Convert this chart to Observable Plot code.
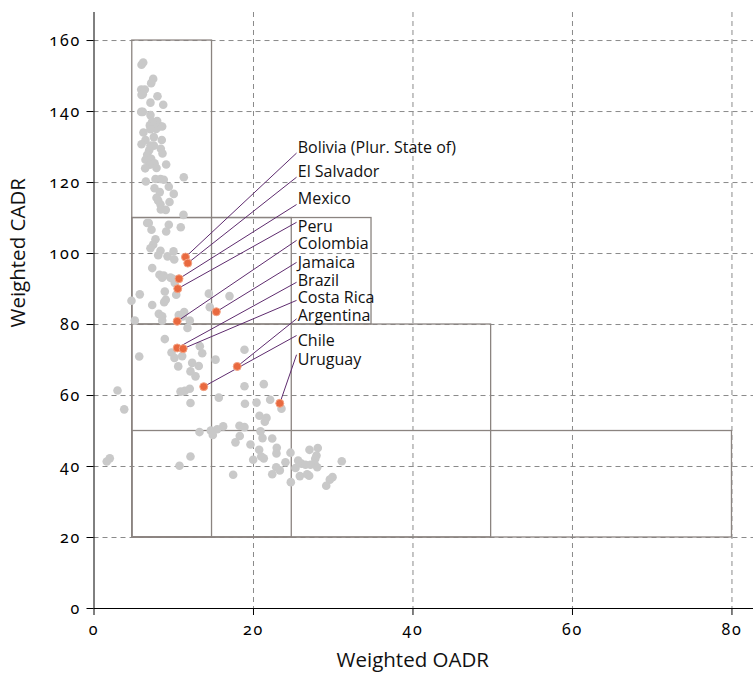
<!DOCTYPE html>
<html>
<head>
<meta charset="utf-8">
<script src="https://cdn.jsdelivr.net/npm/d3@7"></script>
<script src="https://cdn.jsdelivr.net/npm/@observablehq/plot@0.6"></script>
<style>
  html, body { margin: 0; padding: 0; background: #fff; }
  #chart { width: 753px; height: 679px; }
  #chart g[aria-label="x-axis tick label"],
  #chart g[aria-label="y-axis tick label"] {
    font-family: 'Noto Sans', 'Open Sans', sans-serif;
    font-feature-settings: "onum" 1;
    font-variant-numeric: oldstyle-nums;
    letter-spacing: 1.8px;
    font-size: 16px;
  }
</style>
</head>
<body>
<div id="chart"></div>
<script>
// Other countries (grey)
const grayOADR = [5.96,6.17,7.42,7.17,5.92,6.37,5.96,6.12,7.96,7.08,8.68,5.92,6.12,7.08,7.3,7.92,7.0,7.5,8.25,7.8,7.08,8.55,6.2,7.5,8.5,6.46,5.96,7.08,7.5,8.38,6.92,6.67,8.59,6.46,7.17,7.59,7.0,9.05,6.42,7.84,6.5,7.71,8.34,8.75,11.26,7.59,9.38,8.25,10.0,7.84,8.05,9.47,8.34,8.38,9.0,11.22,6.67,6.87,9.38,7.21,9.05,10.88,7.71,7.42,7.08,8.34,8.05,9.22,9.97,10.06,7.3,8.21,8.75,8.55,9.88,10.13,9.59,5.74,4.7,7.3,8.8,9.0,8.88,10.31,14.4,8.13,8.55,8.55,10.63,11.31,11.13,12.01,5.12,11.72,16.99,14.52,8.88,5.67,9.72,10.09,11.06,13.27,13.57,10.56,12.31,13.14,15.24,12.1,12.73,10.85,11.39,12.01,2.95,12.1,15.65,3.79,18.87,18.87,18.93,13.23,14.65,14.9,15.45,16.2,18.24,18.87,18.28,17.74,12.1,10.72,1.98,1.6,21.29,20.38,22.09,23.51,20.75,21.63,21.42,20.88,19.62,21.13,22.35,22.92,22.88,20.71,20.97,21.29,19.96,24.64,27.02,28.06,27.9,27.74,24.01,25.6,26.02,25.27,26.52,27.15,27.65,27.99,31.07,22.85,23.3,22.35,25.81,26.73,26.98,29.91,29.57,29.12,24.68,17.45];
const grayCADR = [153.2,153.8,149.2,148.0,146.2,146.2,144.7,144.9,144.3,142.5,141.9,139.9,139.9,139.0,137.2,137.3,136.1,136.3,135.9,135.1,135.0,135.8,134.1,132.8,132.0,132.0,130.8,130.4,130.4,129.5,129.1,127.8,128.2,126.4,126.7,125.4,125.0,125.1,124.0,124.1,120.3,121.0,121.0,120.8,121.5,118.4,118.8,117.3,116.8,115.7,114.9,114.5,113.8,112.4,112.3,110.9,108.6,108.6,108.1,106.7,106.2,107.4,104.0,102.5,101.5,100.8,99.5,99.2,100.6,98.3,95.9,94.0,93.8,93.2,92.9,91.7,93.2,88.5,86.7,85.5,86.3,87.0,89.3,88.4,88.7,83.0,82.3,81.1,82.7,83.5,82.3,81.1,81.1,79.0,88.0,84.9,75.9,71.0,72.1,70.6,71.1,73.9,71.9,68.2,69.2,68.3,70.1,66.8,65.4,61.1,61.3,61.9,61.4,57.9,59.4,56.1,72.9,62.6,57.7,49.7,50.1,48.9,50.5,51.3,51.5,51.1,48.6,46.8,42.8,40.2,42.3,41.4,63.2,58.0,58.8,56.3,54.3,53.7,52.6,49.9,46.2,48.0,47.9,45.3,43.7,44.7,42.8,42.3,41.9,43.9,44.7,45.2,43.1,42.2,41.2,41.7,40.8,39.6,40.5,40.5,40.8,39.8,41.5,39.8,38.9,37.8,37.3,37.8,37.4,37.0,36.3,34.6,35.6,37.7];

// Highlighted Latin American countries
const countries = ["Bolivia (Plur. State of)","El Salvador","Mexico","Peru","Colombia","Jamaica","Brazil","Costa Rica","Argentina","Chile","Uruguay"];
const countryOADR = [11.47,11.76,10.66,10.5,10.43,15.34,10.43,11.18,17.96,13.76,23.3];
const countryCADR = [99.0,97.3,92.9,90.1,80.9,83.6,73.4,73.2,68.2,62.5,57.8];
// label anchor values (in data units)
const labelCADR = [129.9,122.9,115.4,107.4,102.7,97.5,92.4,87.5,82.5,75.5,70.1];
const leaderCADR = [128.3,121.5,113.8,108.8,103.7,97.5,91.9,86.8,81.6,76.9,71.5];
const labelOADR = 25.55;
const leaderOADR = 25.4;

// Threshold boxes
const boxX1 = [4.8,4.8,4.8,4.8,4.8];
const boxX2 = [14.8,24.8,34.8,49.8,80];
const boxY1 = [20,20,80,20,20];
const boxY2 = [160,110,110,80,50];

// Ticks
const xTicks = [0,20,40,60,80];
const yTicks = [0,20,40,60,80,100,120,140,160];

const gray = grayOADR.map((x, i) => ({x, y: grayCADR[i]}));
const hi = countries.map((name, i) => ({name, x: countryOADR[i], y: countryCADR[i], ly: labelCADR[i], ey: leaderCADR[i]}));
const boxes = boxX1.map((x1, i) => ({x1, x2: boxX2[i], y1: boxY1[i], y2: boxY2[i]}));

const chart = Plot.plot({
  width: 753,
  height: 679,
  marginLeft: 93.5,
  marginRight: 0,
  marginTop: 12,
  marginBottom: 71,
  style: "font-family: 'Open Sans', sans-serif; font-size: 14px; background: #fff; overflow: visible;",
  x: {domain: [0, 82.7]},
  y: {domain: [0, 167.9]},
  marks: [
    Plot.gridY(yTicks.filter(d => d > 0), {stroke: "#8a8a8a", strokeOpacity: 1, strokeDasharray: "5,4"}),
    Plot.gridX(xTicks.filter(d => d > 0), {stroke: "#8a8a8a", strokeOpacity: 1, strokeDasharray: "5,4"}),
    Plot.rect(boxes, {x1: "x1", x2: "x2", y1: "y1", y2: "y2", fill: "none", stroke: "#8b8480", strokeWidth: 1.3}),
    Plot.dot(gray, {x: "x", y: "y", r: 4.3, fill: "#c9c9c9", stroke: "none"}),
    Plot.link(hi, {x1: "x", y1: "y", x2: () => leaderOADR, y2: "ey", stroke: "#5e2b6e", strokeWidth: 1}),
    Plot.dot(hi, {x: "x", y: "y", r: 4, fill: "#e9693f", stroke: "#f4a384", strokeWidth: 1}),
    Plot.text(hi, {x: () => labelOADR, y: "ly", text: "name", textAnchor: "start", fontSize: 16, fill: "#111"}),
    Plot.ruleY([0], {stroke: "#000"}),
    Plot.ruleX([0], {stroke: "#000"}),
    Plot.axisX({ticks: xTicks, tickSize: 7, tickPadding: 8, label: null, fontSize: 16}),
    Plot.axisY({ticks: yTicks, tickSize: 7, tickPadding: 6, label: null, fontSize: 16}),
    Plot.text(["Weighted OADR"], {frameAnchor: "bottom", dx: -11, dy: 58, fontSize: 20.5, fill: "#111"}),
    Plot.text(["Weighted CADR"], {frameAnchor: "left", rotate: -90, dx: -76, dy: 17, fontSize: 20.5, fill: "#111"})
  ]
});
document.getElementById("chart").appendChild(chart);
</script>
</body>
</html>
